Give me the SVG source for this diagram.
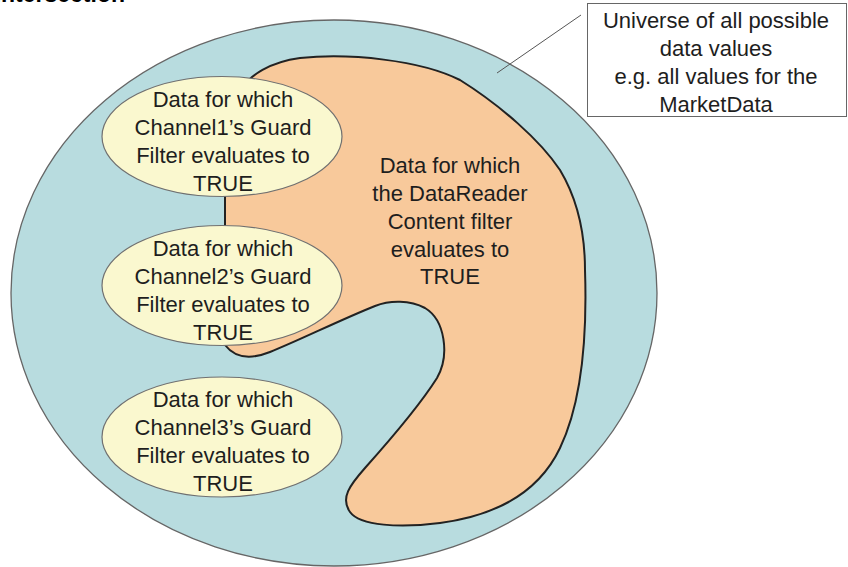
<svg xmlns="http://www.w3.org/2000/svg" width="848" height="567" viewBox="0 0 848 567">
  <style>
    .t { font-family: "Liberation Sans", Arial, sans-serif; font-size: 22px; fill: #1e1e1e; text-anchor: middle; }
    .guard { fill: #FAF8CF; stroke: #707070; stroke-width: 1.2; }
  </style>
  <rect x="0" y="0" width="848" height="567" fill="#ffffff"/>
  <text x="125" y="1.5" style="font-family: 'Liberation Sans', Arial, sans-serif; font-size: 23px; font-weight: bold; fill: #000; text-anchor: end;">Intersection</text>

  <g id="universe">
    <ellipse cx="334" cy="293" rx="323" ry="273" fill="#B8DCDF" stroke="#666666" stroke-width="1.3"/>
  </g>

  <g id="content-filter">
    <path d="M 240,90 C 250,75 270,62 300,58 C 350,53 420,60 460,80 C 500,105 540,140 560,170 C 578,200 585,235 585,270 C 587,330 583,400 560,448 C 540,490 500,515 440,523 C 400,528 360,526 350,512 C 340,498 350,485 365,468 C 390,440 420,405 437,378 C 450,355 445,320 425,308 C 410,300 390,300 375,306 C 340,320 300,340 270,352 C 250,360 235,358 225,345 L 225,200 C 225,150 230,110 240,90 Z" fill="#F8C99B" stroke="#222222" stroke-width="2"/>
    <text class="t" x="450" y="173">Data for which</text>
    <text class="t" x="450" y="201">the DataReader</text>
    <text class="t" x="450" y="229">Content filter</text>
    <text class="t" x="450" y="257">evaluates to</text>
    <text class="t" x="450" y="284">TRUE</text>
  </g>

  <g id="channel1">
    <ellipse class="guard" cx="222" cy="136.5" rx="120" ry="60"/>
    <text class="t" x="223" y="107">Data for which</text>
    <text class="t" x="223" y="135">Channel1’s Guard</text>
    <text class="t" x="223" y="163">Filter evaluates to</text>
    <text class="t" x="223" y="191">TRUE</text>
  </g>

  <g id="channel2">
    <ellipse class="guard" cx="222" cy="285.5" rx="120" ry="60"/>
    <text class="t" x="223" y="256">Data for which</text>
    <text class="t" x="223" y="284">Channel2’s Guard</text>
    <text class="t" x="223" y="312">Filter evaluates to</text>
    <text class="t" x="223" y="340">TRUE</text>
  </g>

  <g id="channel3">
    <ellipse class="guard" cx="222" cy="437" rx="120" ry="60"/>
    <text class="t" x="223" y="407">Data for which</text>
    <text class="t" x="223" y="435">Channel3’s Guard</text>
    <text class="t" x="223" y="463">Filter evaluates to</text>
    <text class="t" x="223" y="491">TRUE</text>
  </g>

  <g id="callout">
    <rect x="587.5" y="3.5" width="259" height="113" fill="#ffffff" stroke="#666666" stroke-width="1"/>
    <text class="t" x="716" y="28">Universe of all possible</text>
    <text class="t" x="716" y="56">data values</text>
    <text class="t" x="716" y="84">e.g. all values for the</text>
    <text class="t" x="716" y="112">MarketData</text>
  </g>

  <g id="connectors">
    <line x1="497" y1="73" x2="581" y2="15" stroke="#555555" stroke-width="1"/>
  </g>
</svg>
